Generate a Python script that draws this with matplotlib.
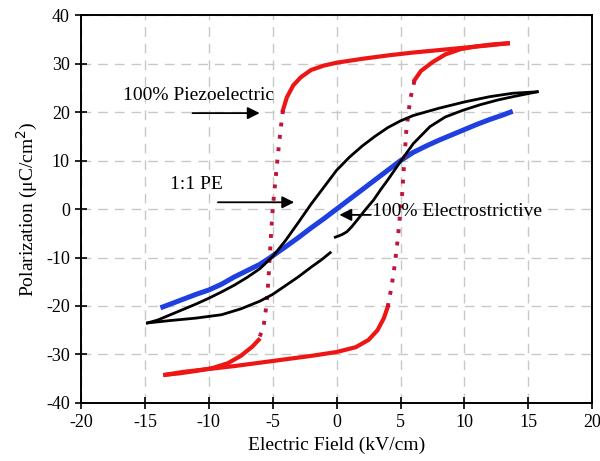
import matplotlib
matplotlib.use("Agg")
import matplotlib.pyplot as plt

plt.rcParams['font.family'] = ['Liberation Serif', 'DejaVu Serif']
plt.rcParams['axes.unicode_minus'] = False

# 100% piezoelectric loop (red), split into solid and dotted parts
red_top_E = [13.4, 12, 10, 8, 6, 4, 2, 0, -1, -2, -2.8, -3.4, -3.9, -4.2]
red_top_P = [34.2, 33.8, 33.3, 32.8, 32.3, 31.7, 31.0, 30.2, 29.6, 28.7, 27.2, 25.5, 23.0, 20.4]
red_down_E = [-4.2, -4.4, -4.6, -4.8, -5.0, -5.15, -5.3, -5.45, -5.7, -6.1]
red_down_P = [20.4, 16, 11, 5.5, 0, -6, -13, -19, -24, -27]
red_ll_E = [-6.1, -6.6, -7.5, -8.5, -9.7, -11, -12.3, -13.4]
red_ll_P = [-27, -28.4, -30.3, -31.8, -32.8, -33.4, -33.9, -34.2]
red_bot_E = [-13.4, -12, -10, -8, -6, -4, -2, 0, 1.5, 2.5, 3.2, 3.7, 4.0]
red_bot_P = [-34.2, -33.6, -33.0, -32.4, -31.7, -31.0, -30.3, -29.5, -28.5, -27.0, -25.0, -22.5, -20.2]
red_up_E = [4.0, 4.3, 4.55, 4.75, 4.9, 5.0, 5.1, 5.2, 5.3, 5.45, 5.75, 6.1]
red_up_P = [-20.2, -16, -11.5, -7, -3, 0, 2, 6, 10, 16, 22.5, 26.6]
red_ur_E = [6.1, 6.6, 7.5, 8.5, 9.7, 11, 12.3, 13.4]
red_ur_P = [26.6, 28.5, 30.3, 31.9, 33.0, 33.6, 34.0, 34.2]

# 1:1 PE loop (black)
blk_top_E = [15.7, 13.8, 12, 10, 8, 6, 5, 4, 3, 2, 1, 0, -1, -2, -3, -4, -5, -6, -7, -8,
             -9, -10, -11, -12, -13, -14, -14.8]
blk_top_P = [24.2, 23.9, 23.2, 22.1, 20.8, 19.3, 18.2, 16.8, 15.0, 13.0, 10.7, 8.0, 4.5, 1.0,
             -2.8, -6.5, -9.8, -12.3, -14.1, -15.7, -17.1, -18.4, -19.6, -20.7, -21.8, -22.9, -23.5]
blk_low_E = [-14.8, -13, -11, -9, -7.5, -6, -5, -4, -3, -2, -1.2, -0.5]
blk_low_P = [-23.5, -23.0, -22.5, -21.8, -20.6, -19.0, -17.6, -15.8, -14.0, -12.0, -10.5, -9.0]
blk_hook_E = [-0.1, 0.4, 0.8, 1.2, 1.6, 2.2, 2.9, 3.5, 4, 5, 6, 7.3, 8.5, 9.9, 11.2, 12.6, 14, 15.7]
blk_hook_P = [-5.8, -5.3, -4.7, -3.6, -2.3, -0.3, 1.9, 4.2, 6.0, 9.8, 13.5, 17.0, 19.0, 20.4,
              21.5, 22.5, 23.3, 24.2]

# 100% electrostrictive (blue)
blue_E = [-13.6, -13, -12, -11, -10, -9, -8, -7, -6, -5.3, -4, -3, -2, -1, 0, 1, 2, 3, 4, 5,
          6, 7, 8, 9, 10, 11, 12, 13, 13.6]
blue_P = [-20.2, -19.6, -18.6, -17.6, -16.7, -15.5, -14.0, -12.7, -11.4, -10.2, -7.8, -5.9,
          -3.9, -2.0, 0, 2, 4, 6, 8, 10, 11.7, 13.0, 14.2, 15.3, 16.4, 17.5, 18.5, 19.4, 20]

fig = plt.figure(figsize=(6, 4.61), dpi=100)
ax = fig.add_axes([0.135, 0.126, 0.852, 0.841])

red = '#ee1515'
dred = '#c0143c'
ax.plot(blue_E, blue_P, color='#1f3fe0', lw=3.6, zorder=3)
ax.plot(blk_top_E, blk_top_P, color='black', lw=2, zorder=4)
ax.plot(blk_low_E, blk_low_P, color='black', lw=2, zorder=4)
ax.plot(blk_hook_E, blk_hook_P, color='black', lw=2, zorder=4)
for e, p in [(red_top_E, red_top_P), (red_ll_E, red_ll_P), (red_bot_E, red_bot_P), (red_ur_E, red_ur_P)]:
    ax.plot(e, p, color=red, lw=3, zorder=3)
for e, p in [(red_down_E, red_down_P), (red_up_E, red_up_P)]:
    ax.plot(e, p, color=dred, lw=2.8, ls=(0, (1, 2.2)), zorder=3)

ax.set_xlim(-20, 20)
ax.set_ylim(-40, 40)
ax.set_xticks(range(-20, 21, 5))
ax.set_yticks(range(-40, 41, 10))
ax.grid(True, color='#c8c8c8', ls=(0, (7, 5)), lw=1)
ax.set_axisbelow(True)
for s in ax.spines.values():
    s.set_linewidth(1.4)
ax.tick_params(direction='inout', length=9, width=1.2, labelsize=13)
ax.set_xlabel('Electric Field (kV/cm)', fontsize=14)
ax.set_ylabel('Polarization (μC/cm$^2$)', fontsize=14)

arrow = dict(arrowstyle='-|>', color='black', lw=1.3, mutation_scale=18)
ax.annotate('', xy=(-5.8, 19.8), xytext=(-11.5, 19.8), arrowprops=arrow)
ax.text(-16.7, 23.5, '100% Piezoelectric', fontsize=14, va='center', ha='left')
ax.annotate('', xy=(-3.1, 1.4), xytext=(-9.5, 1.4), arrowprops=arrow)
ax.text(-13.0, 5, '1:1 PE', fontsize=14, va='center', ha='left')
ax.annotate('', xy=(0.0, -1.2), xytext=(2.9, -1.2), arrowprops=arrow)
ax.text(2.8, -0.6, '100% Electrostrictive', fontsize=14, va='center', ha='left')

fig.savefig('out.png', dpi=100)
